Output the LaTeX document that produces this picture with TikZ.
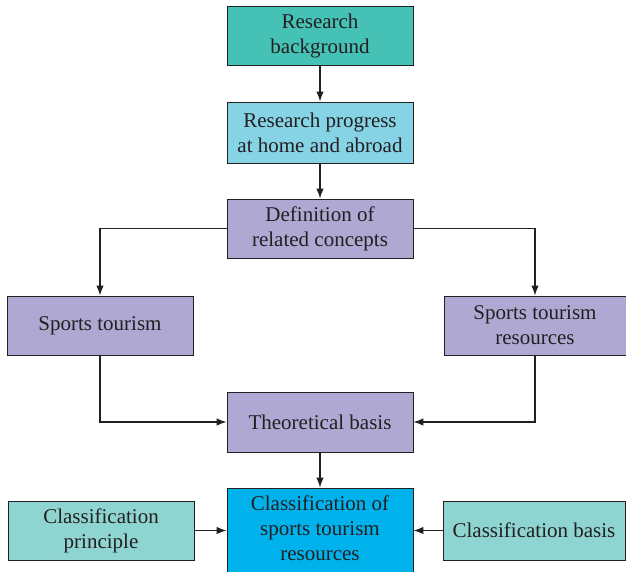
\documentclass[tikz,border=0pt]{standalone}
\usepackage{fontspec}
\setmainfont{Liberation Serif}
\usetikzlibrary{arrows.meta}
\definecolor{cTeal}{HTML}{45C1B5}
\definecolor{cSky}{HTML}{87D3E6}
\definecolor{cLilac}{HTML}{AFA8D3}
\definecolor{cBlue}{HTML}{00B2EC}
\definecolor{cMint}{HTML}{8ED5D1}
\definecolor{cInk}{HTML}{231F20}
\begin{document}
\begin{tikzpicture}[x=1pt,y=-1pt,
  box/.style={draw=cInk, line width=0.9pt, align=center, inner sep=0pt,
    font=\fontsize{21}{25}\selectfont, text=cInk},
  wide/.style={minimum width=186pt, minimum height=59pt},
  link/.style={line width=1.2pt, draw=cInk, -{Latex[length=10pt,width=7.5pt]}}]
\useasboundingbox (0,0) rectangle (626,572);

% main column
\node[box, wide, fill=cTeal] (bg) at (320,36) {Research\\background};
\node[box, wide, fill=cSky, minimum height=61pt] (prog) at (320,132.5) {Research progress\\at home and abroad};
\node[box, wide, fill=cLilac] (def) at (320,228.5) {Definition of\\related concepts};
\node[box, wide, fill=cLilac, minimum height=60pt] (theo) at (320,422) {Theoretical basis};
% the last box runs off the bottom edge; its text sits a little above centre
\node[box, wide, fill=cBlue, minimum height=88pt] (cls) at (320,532) {};
\node[box, draw=none] (clsText) at (320,528) {Classification of\\sports tourism\\resources};

% side boxes
\node[box, fill=cLilac, minimum width=186pt, minimum height=59pt] (st) at (100,325.5) {Sports tourism};
\node[box, fill=cLilac, minimum width=182pt, minimum height=59pt] (str) at (535,325.5) {Sports tourism\\resources};
\node[box, fill=cMint, minimum width=186pt, minimum height=59pt] (cp) at (101,530.5) {Classification\\principle};
\node[box, fill=cMint, minimum width=182pt, minimum height=59pt] (cb) at (534,530.5) {Classification basis};

% connectors
\draw[link] (bg) -- (prog);
\draw[link] (prog) -- (def);
\draw[link] (def.west) -| (st.north);
\draw[link] (def.east) -| (str.north);
\draw[link] (st.south) |- (theo.west);
\draw[link] (str.south) |- (theo.east);
\draw[link] (theo.south) -- (cls.north);
\draw[link] (cp.east) -- (cp.east -| cls.west);
\draw[link] (cb.west) -- (cb.west -| cls.east);
\end{tikzpicture}
\end{document}
